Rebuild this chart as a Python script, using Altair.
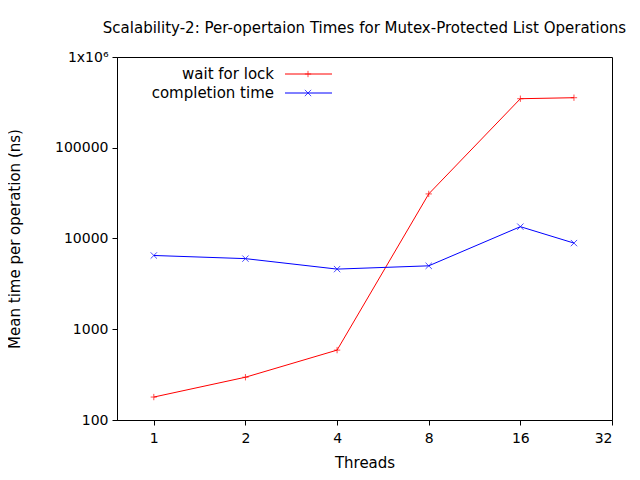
import altair as alt
import pandas as pd

threads = [1, 2, 4, 8, 16, 24]
wait_for_lock = [179, 296, 589, 31000, 347000, 356000]
completion_time = [6500, 6000, 4600, 5000, 13500, 8900]
series_names = ["wait for lock", "completion time"]
colors = ["#ff0000", "#0000ff"]
shapes = ["M-1,0L1,0M0,-1L0,1", "M-1,-1L1,1M-1,1L1,-1"]

rows = []
for t, w, c in zip(threads, wait_for_lock, completion_time):
    rows.append({"threads": t, "value": w, "series": series_names[0]})
    rows.append({"threads": t, "value": c, "series": series_names[1]})
df = pd.DataFrame(rows)

font = "DejaVu Sans"
W, H = 495, 363

x = alt.X("threads:Q", scale=alt.Scale(type="log", base=2, domain=[0.757, 32], nice=False),
          axis=alt.Axis(values=[1, 2, 4, 8, 16, 32], title="Threads", grid=False,
                        tickSize=5, titlePadding=10, labelPadding=6))
y = alt.Y("value:Q", scale=alt.Scale(type="log", domain=[100, 1000000], nice=False),
          axis=alt.Axis(values=[100, 1000, 10000, 100000, 1000000],
                        labelExpr="datum.value == 1000000 ? '1x10⁶' : format(datum.value, 'd')",
                        title="Mean time per operation (ns)", grid=False, tickSize=5,
                        titlePadding=32, labelPadding=4))
col = alt.Color("series:N", scale=alt.Scale(domain=series_names, range=colors), legend=None)

base = alt.Chart(df)
lines = base.mark_line(strokeWidth=1).encode(x=x, y=y, color=col)
pts = []
for name, c, s in zip(series_names, colors, shapes):
    pts.append(base.transform_filter(alt.datum.series == name).mark_point(
        shape=s, size=40, filled=False, stroke=c, strokeWidth=1).encode(x=x, y=y))

legend = []
for i, (name, c, s) in enumerate(zip(series_names, colors, shapes)):
    yy = 17 + i * 19
    leg_df = pd.DataFrame({"label": [name]})
    lb = alt.Chart(leg_df)
    legend.append(lb.mark_text(align="right", baseline="middle", font=font, fontSize=15).encode(
        x=alt.value(157), y=alt.value(yy), text="label:N"))
    legend.append(lb.mark_rule(color=c, strokeWidth=1).encode(
        x=alt.value(168), x2=alt.value(215), y=alt.value(yy)))
    legend.append(lb.mark_point(shape=s, size=40, filled=False, stroke=c, strokeWidth=1).encode(
        x=alt.value(191), y=alt.value(yy)))

chart = alt.layer(lines, *pts, *legend).properties(
    width=W, height=H,
    autosize=alt.AutoSizeParams(type="none"),
    padding={"left": 109, "top": 49, "right": 20, "bottom": 52},
    title=alt.Title("Scalability-2: Per-opertaion Times for Mutex-Protected List Operations",
                    font=font, fontSize=15, fontWeight="normal", offset=14, anchor="middle"),
    background="white",
).configure_view(stroke="black", strokeWidth=1).configure_axis(
    labelFont=font, labelFontSize=14, titleFont=font, titleFontSize=15,
    titleFontWeight="normal", domainColor="black", tickColor="black",
    labelColor="black", titleColor="black",
)

chart.save("out.html", embed_options={"renderer": "svg", "actions": False})
